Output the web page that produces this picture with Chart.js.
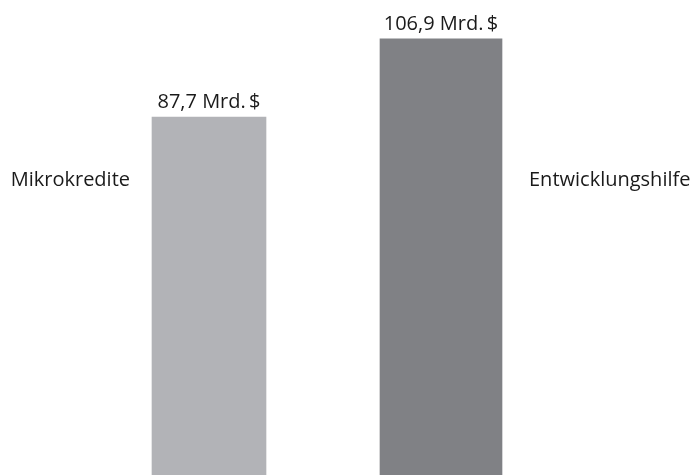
<!DOCTYPE html>
<html>
<head>
<meta charset="utf-8">
<script src="https://cdn.jsdelivr.net/npm/chart.js@4"></script>
<style>
  body { margin: 0; background: #fff; }
</style>
</head>
<body>
<canvas id="bars" width="691" height="475"></canvas>
<script>
var categories = ["Mikrokredite", "Entwicklungshilfe"];
var values = [87.7, 106.9];
var unit = "Mrd.\u2009$";
var colors = ["#b2b3b7", "#808185"];
var widths = [114, 122];

// one dataset per bar so each can get its own width
var datasets = values.map(function (v, i) {
  var d = categories.map(function (c, j) { return j === i ? v : null; });
  return {
    data: d,
    backgroundColor: colors[i],
    barThickness: widths[i]
  };
});

var labelPlugin = {
  id: 'labels',
  afterDatasetsDraw: function (chart) {
    var ctx = chart.ctx;
    ctx.save();
    ctx.font = '20px "Open Sans"';
    ctx.fillStyle = '#1a1a1a';
    ctx.textBaseline = 'alphabetic';
    values.forEach(function (v, i) {
      var bar = chart.getDatasetMeta(i).data[i];
      var txt = v.toFixed(1).replace('.', ',') + ' ' + unit;
      ctx.textAlign = 'center';
      ctx.fillText(txt, bar.x, bar.y - 9);
      var half = bar.width / 2;
      if (i === 0) {
        ctx.textAlign = 'right';
        ctx.fillText(categories[i], bar.x - half - 22, 186);
      } else {
        ctx.textAlign = 'left';
        ctx.fillText(categories[i], bar.x + half + 27, 186);
      }
    });
    ctx.restore();
  }
};

var barsE = document.getElementById("bars");
var bars = new Chart(barsE, {
  type: 'bar',
  data: {
    labels: categories,
    datasets: datasets
  },
  options: {
    responsive: false,
    animation: false,
    layout: { padding: { left: 93, right: 134, top: 0, bottom: 0 } },
    plugins: {
      legend: { display: false },
      tooltip: { enabled: false }
    },
    scales: {
      x: { display: false, stacked: true },
      y: { display: false, stacked: true, min: 0, max: 116.4 }
    }
  },
  plugins: [labelPlugin]
});
</script>
</body>
</html>
